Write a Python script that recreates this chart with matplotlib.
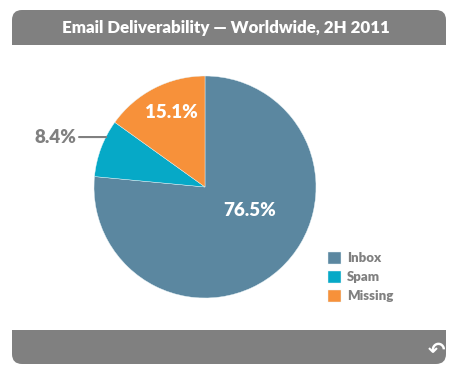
import matplotlib.pyplot as plt
from matplotlib.patches import FancyBboxPatch, Rectangle

# data
labels = ["Inbox", "Spam", "Missing"]
shares = [76.5, 8.4, 15.1]
colors = ["#5b87a0", "#06a9c7", "#f7913a"]
title = "Email Deliverability \u2014 Worldwide, 2H 2011"

plt.rcParams["font.family"] = ["Lato", "DejaVu Sans"]
grey = "#808080"

fig = plt.figure(figsize=(4.57, 3.80), dpi=100)

# background layer in pixel coordinates (y down)
bg = fig.add_axes([0, 0, 1, 1])
bg.set_xlim(0, 457)
bg.set_ylim(380, 0)
bg.axis("off")

# title bar, rounded on top
bg.add_patch(FancyBboxPatch((12, 10), 434, 35, boxstyle="round,pad=0,rounding_size=10",
                            fc=grey, ec="none"))
bg.add_patch(Rectangle((12, 30), 434, 15, fc=grey, ec="none"))
bg.text(226, 28, title, color="white", fontsize=12.2, fontweight="heavy",
        ha="center", va="center")

# bottom bar, rounded at the bottom
bg.add_patch(FancyBboxPatch((12, 330), 434, 34, boxstyle="round,pad=0,rounding_size=10",
                            fc=grey, ec="none"))
bg.add_patch(Rectangle((12, 330), 434, 15, fc=grey, ec="none"))
bg.text(437, 351, "\u21b6", color="white", fontsize=15, fontweight="bold",
        ha="center", va="center", family="DejaVu Sans")

# pie
ax = fig.add_axes([(205 - 111) / 457, (380 - 187 - 111) / 380, 222 / 457, 222 / 380])
wedges, _ = ax.pie(shares, colors=colors, startangle=90, counterclock=False,
                   wedgeprops=dict(linewidth=0.3, edgecolor="#e8f4f8"))
ax.set_xlim(-1, 1)
ax.set_ylim(-1, 1)

ax.text(0.405, -0.216, f"{shares[0]}%", color="white", fontsize=13.5, fontweight="heavy",
        ha="center", va="center")
ax.text(-0.30, 0.67, f"{shares[2]}%", color="white", fontsize=13.5, fontweight="heavy",
        ha="center", va="center")
ax.annotate(f"{shares[1]}%", xy=(-0.89, 0.45), xytext=(-1.16, 0.45),
            color=grey, fontsize=13.5, fontweight="heavy", ha="right", va="center",
            arrowprops=dict(arrowstyle="-", color=grey, lw=1.5, shrinkA=0, shrinkB=0),
            annotation_clip=False)

# legend
leg = fig.legend(wedges, labels, loc="upper left", bbox_to_anchor=(316 / 457, 1 - 240 / 380),
                 frameon=False, handlelength=1.0, handleheight=1.0, handletextpad=0.45,
                 labelspacing=0.5, prop=dict(size=9.5, weight="heavy"))
for t in leg.get_texts():
    t.set_color(grey)

fig.savefig("out.png", dpi=100)
